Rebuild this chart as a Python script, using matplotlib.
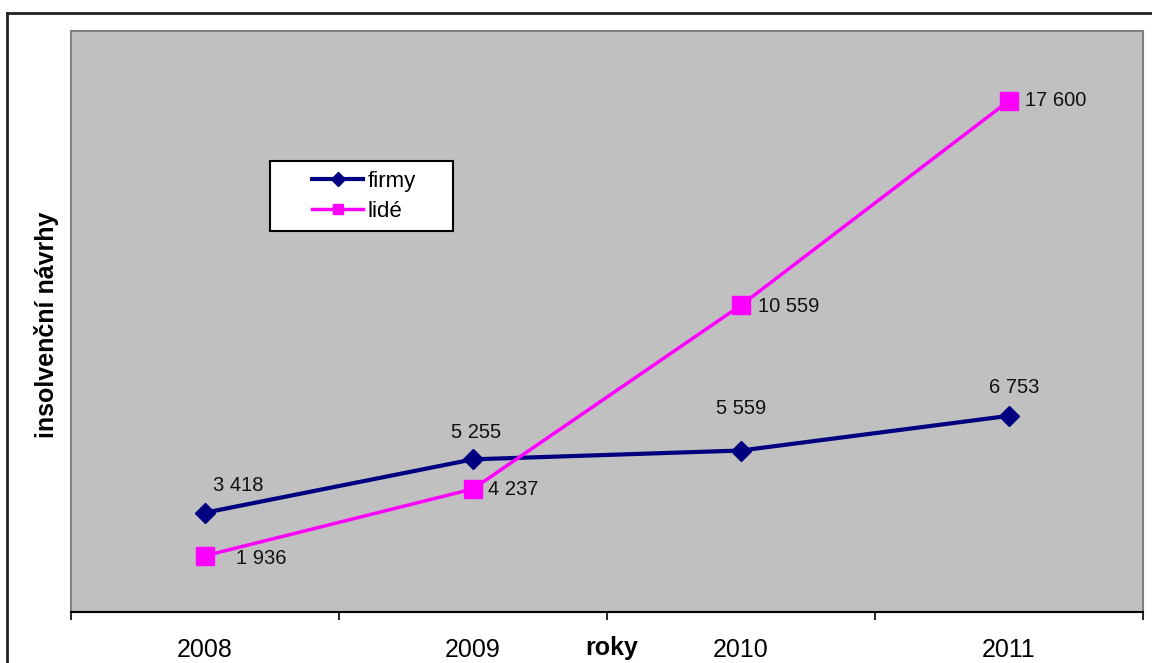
import matplotlib.pyplot as plt
from matplotlib.lines import Line2D
from matplotlib.patches import Rectangle

plt.rcParams["font.family"] = ["Liberation Sans", "DejaVu Sans"]

years = ["2008", "2009", "2010", "2011"]
firmy = [3418, 5255, 5559, 6753]
lide = [1936, 4237, 10559, 17600]

W, H = 1152, 663


def fmt(v):
    # thousands separated by a space
    return f"{v:,}".replace(",", " ")


def px(dx, dy):
    # pixel offset -> points (dpi 100)
    return (dx * 0.72, dy * 0.72)


fig = plt.figure(figsize=(W / 100, H / 100), dpi=100)
fig.patch.set_facecolor("white")

# frame lines around the chart (top and left)
fig.add_artist(Line2D([7 / W, 1], [1 - 13 / H, 1 - 13 / H], color="#222222", lw=2))
fig.add_artist(Line2D([7 / W, 7 / W], [0, 1 - 13 / H], color="#222222", lw=2))

ax = fig.add_axes([71 / W, 51 / H, 1072 / W, 581 / H])
ax.set_facecolor("#C0C0C0")

x = range(len(years))
ax.plot(x, firmy, color="#000080", lw=3, marker="D", markersize=10)
ax.plot(x, lide, color="#FF00FF", lw=2.5, marker="s", markersize=12.5)

# labels for firmy sit above the points, for lidé to the right
firmy_off = [(33, 27), (3, 27), (0, 42), (5, 28)]
for i, v in enumerate(firmy):
    ax.annotate(fmt(v), (i, v), xytext=px(*firmy_off[i]), textcoords="offset points",
                ha="center", va="center", fontsize=14.5, color="#111111")
lide_off = [(31, -3), (15, -1), (17, -1), (16, 0)]
for i, v in enumerate(lide):
    ax.annotate(fmt(v), (i, v), xytext=px(*lide_off[i]), textcoords="offset points",
                ha="left", va="center", fontsize=14.5, color="#111111")

ax.set_xlim(-0.5, 3.5)
ax.set_ylim(0, 20000)
ax.set_yticks([])
ax.set_xticks([-0.5, 0.5, 1.5, 2.5, 3.5])
ax.set_xticklabels([])
ax.set_xticks(list(x), minor=True)
ax.set_xticklabels(years, minor=True, fontsize=18)
ax.tick_params(axis="x", which="major", direction="out", length=6, width=1.2, color="black")
ax.tick_params(axis="x", which="minor", length=0, pad=19)

for side in ["top", "left", "right"]:
    ax.spines[side].set_color("#808080")
    ax.spines[side].set_linewidth(1.5)
ax.spines["bottom"].set_color("black")
ax.spines["bottom"].set_linewidth(1.5)

fig.text(612 / W, 1 - 648 / H, "roky", fontsize=18, fontweight="bold",
         ha="center", va="center")
fig.text(47 / W, 1 - 325 / H, "insolvenční návrhy", fontsize=18, fontweight="bold",
         rotation=90, ha="center", va="center")

# legend box with wide side margins
fig.add_artist(Rectangle((270 / W, 1 - 231 / H), 183 / W, 70 / H, transform=fig.transFigure,
                         facecolor="white", edgecolor="black", lw=1.5, zorder=3))
handles = [
    Line2D([], [], color="#000080", lw=3, marker="D", markersize=7),
    Line2D([], [], color="#FF00FF", lw=2.5, marker="s", markersize=7),
]
leg = fig.legend(handles, ["firmy", "lidé"], loc="upper left",
                 bbox_to_anchor=(312 / W, 1 - 171 / H), frameon=False, fontsize=16,
                 handlelength=2.3, borderpad=0, labelspacing=0.4, handletextpad=0.2,
                 borderaxespad=0)
leg.set_zorder(4)

fig.savefig("out.png", dpi=100)
